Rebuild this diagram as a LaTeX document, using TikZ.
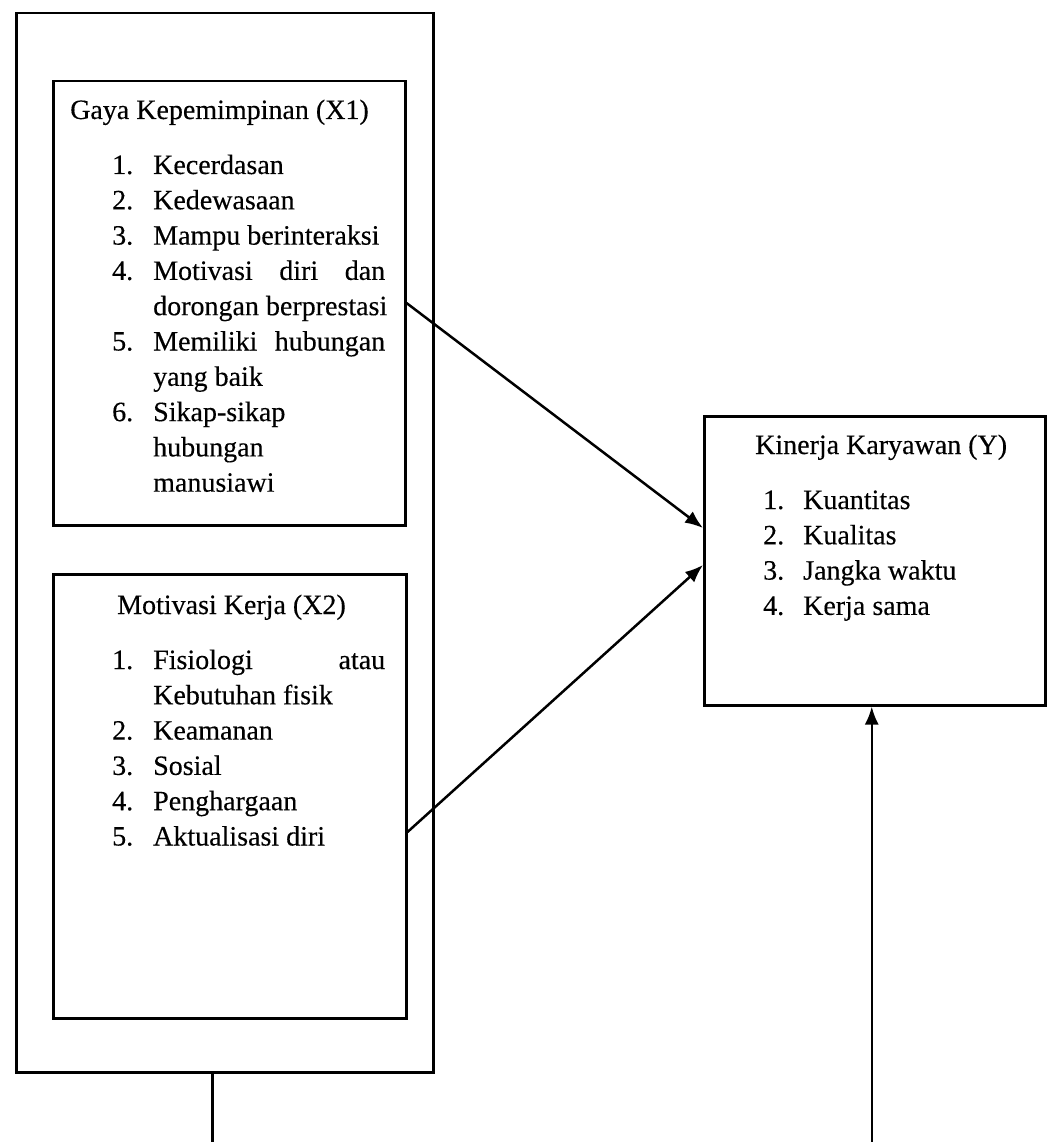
\documentclass[tikz,border=0pt]{standalone}
\usepackage{fontspec}
\setmainfont{Liberation Serif}[FakeBold=0.3]
\usetikzlibrary{arrows.meta,calc}
\newcommand\numitem[2]{\makebox[41pt][l]{#1}#2}
\newcommand\numitemy[2]{\makebox[40pt][l]{#1}#2}
\newcommand\justline[1]{\makebox[232pt][s]{#1}}
\begin{document}
\begin{tikzpicture}[x=1pt,y=-1pt,
  box/.style={draw, line width=2.5pt, rectangle, inner sep=0pt, anchor=north west},
  txt/.style={anchor=base west, inner sep=0pt, font=\fontsize{28}{35}\selectfont},
  arr/.style={line width=2.5pt, -{Latex[length=18pt,width=14pt]}}]
\useasboundingbox (0,0) rectangle (1046,1142);
% boxes
\node[box, minimum width=417pt, minimum height=1059pt] (outer) at (15,12) {};
\node[box, minimum width=352pt, minimum height=444pt] (x1) at (52,80) {};
\node[box, minimum width=353pt, minimum height=444pt] (x2) at (52,573) {};
\node[box, minimum width=341pt, minimum height=289pt] (ybox) at (703,415) {};
% X1 texts
\node[txt] (t1) at (70,119) {Gaya Kepemimpinan (X1)};
\node[txt] (a1) at (112,174) {\numitem{1.}{Kecerdasan}};
\node[txt] (a2) at (112,209.3) {\numitem{2.}{Kedewasaan}};
\node[txt] (a3) at (112,244.6) {\numitem{3.}{Mampu berinteraksi}};
\node[txt] (a4) at (112,279.9) {\numitem{4.}{\justline{Motivasi diri dan}}};
\node[txt] (a4b) at (153,315.2) {dorongan berprestasi};
\node[txt] (a5) at (112,350.5) {\numitem{5.}{\justline{Memiliki hubungan}}};
\node[txt] (a5b) at (153,385.8) {yang baik};
\node[txt] (a6) at (112,421.1) {\numitem{6.}{Sikap-sikap}};
\node[txt] (a6b) at (153,456.4) {hubungan};
\node[txt] (a6c) at (153,491.7) {manusiawi};
% X2 texts
\node[txt] (t2) at (117,614) {Motivasi Kerja (X2)};
\node[txt] (b1) at (112,669) {\numitem{1.}{\justline{Fisiologi atau}}};
\node[txt] (b1b) at (153,704.3) {Kebutuhan fisik};
\node[txt] (b2) at (112,739.6) {\numitem{2.}{Keamanan}};
\node[txt] (b3) at (112,774.9) {\numitem{3.}{Sosial}};
\node[txt] (b4) at (112,810.2) {\numitem{4.}{Penghargaan}};
\node[txt] (b5) at (112,845.5) {\numitem{5.}{Aktualisasi diri}};
% Y texts
\node[txt] (t3) at (755,454) {Kinerja Karyawan (Y)};
\node[txt] (c1) at (763,509) {\numitemy{1.}{Kuantitas}};
\node[txt] (c2) at (763,544.3) {\numitemy{2.}{Kualitas}};
\node[txt] (c3) at (763,579.6) {\numitemy{3.}{Jangka waktu}};
\node[txt] (c4) at (763,614.9) {\numitemy{4.}{Kerja sama}};
% connector end points on the borders
\coordinate (s1) at ([yshift=-223pt]x1.north east);
\coordinate (e1) at ([yshift=-113pt]ybox.north west);
\coordinate (s2) at ([yshift=-259pt]x2.north east);
\coordinate (e2) at ([yshift=-150pt]ybox.north west);
\coordinate (s3) at ([xshift=-12.5pt]outer.south);
\coordinate (e3) at ([xshift=-3pt]ybox.south);
% connectors
\draw[arr] (s1) -- (e1);
\draw[arr] (s2) -- (e2);
\draw[arr] (s3) -- ++(0,70.5) -| (e3);
\end{tikzpicture}
\end{document}
